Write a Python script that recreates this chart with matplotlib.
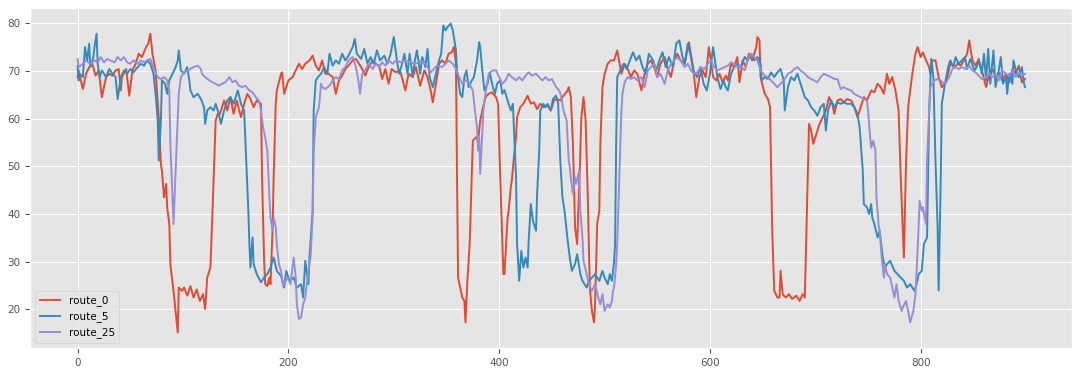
import numpy as np
import matplotlib
matplotlib.use("Agg")
import matplotlib.pyplot as plt

# values, route_0
x_r0 = [0, 1, 3, 5, 8, 11, 14, 17, 20, 23, 27, 30, 33, 36, 39, 41, 42, 46, 49, 52,
        55, 58, 61, 65, 67, 69, 71, 74, 77, 79, 80, 82, 84, 85, 87, 88, 91, 95, 96, 99,
        101, 104, 107, 110, 113, 116, 119, 121, 123, 126, 128, 131, 133, 135, 139, 142, 145, 148, 151, 155,
        158, 161, 164, 167, 170, 174, 175, 177, 178, 180, 182, 183, 185, 186, 188, 189, 193, 194, 196, 197,
        200, 204, 207, 210, 213, 216, 220, 223, 226, 229, 232, 235, 238, 242, 245, 248, 251, 254, 257, 261,
        264, 267, 270, 273, 276, 280, 283, 286, 289, 292, 295, 298, 302, 306, 311, 314, 318, 321, 325, 329,
        332, 335, 337, 340, 343, 346, 349, 352, 355, 357, 359, 360, 361, 363, 365, 367, 368, 370, 372, 374,
        375, 378, 380, 382, 384, 387, 390, 393, 397, 399, 401, 403, 404, 405, 408, 409, 411, 412, 414, 416,
        417, 420, 423, 427, 430, 433, 436, 439, 442, 446, 449, 452, 455, 458, 461, 465, 466, 468, 470, 472,
        474, 476, 478, 480, 482, 484, 486, 488, 490, 491, 493, 495, 496, 498, 500, 503, 506, 509, 512, 516,
        519, 522, 525, 528, 531, 535, 538, 541, 544, 547, 550, 553, 557, 560, 563, 566, 569, 572, 576, 580,
        584, 587, 590, 593, 596, 599, 603, 606, 609, 612, 615, 617, 620, 623, 626, 628, 631, 634, 637, 640,
        644, 645, 647, 648, 650, 652, 655, 657, 659, 661, 664, 666, 667, 669, 672, 675, 678, 682, 685, 688,
        690, 692, 694, 696, 698, 700, 704, 707, 710, 713, 716, 718, 721, 724, 727, 730, 734, 737, 740, 743,
        746, 749, 753, 756, 759, 762, 765, 768, 770, 773, 776, 779, 781, 784, 786, 788, 790, 792, 795, 797,
        800, 802, 805, 808, 809, 811, 814, 817, 820, 824, 828, 832, 835, 838, 841, 844, 846, 849, 852, 855,
        858, 862, 865, 868, 871, 874, 877, 881, 884, 887, 890, 893, 896, 899]
y_r0 = [68.7, 70.1, 68.0, 66.2, 69.4, 70.8, 71.5, 69.0, 70.1, 64.5, 68.7, 69.4, 69.0, 70.1, 70.4, 65.9, 68.7, 70.4, 64.8, 70.1,
        71.5, 73.6, 72.9, 75.0, 75.7, 77.8, 73.6, 70.1, 60.3, 50.5, 49.1, 43.5, 46.3, 41.4, 37.9, 29.5, 23.9, 15.2, 24.6, 23.9,
        24.6, 22.9, 24.9, 22.5, 24.2, 21.8, 23.2, 20.1, 26.7, 28.8, 40.7, 59.6, 61.0, 61.0, 63.8, 61.7, 64.5, 61.0, 63.8, 60.3,
        63.1, 65.2, 64.1, 62.4, 63.8, 63.1, 47.7, 30.0, 25.3, 24.9, 26.7, 25.3, 37.0, 47.7, 63.1, 65.9, 69.4, 69.7, 65.2, 65.9,
        68.0, 68.7, 70.1, 71.5, 70.4, 71.5, 72.2, 73.2, 71.1, 70.1, 72.2, 69.4, 69.4, 68.7, 65.2, 68.0, 69.0, 70.4, 71.1, 72.2,
        72.5, 71.5, 70.4, 69.0, 70.8, 72.2, 71.5, 71.1, 68.3, 70.4, 67.3, 70.4, 69.7, 70.1, 65.9, 69.4, 68.7, 70.8, 66.9, 70.1,
        68.7, 65.9, 63.4, 67.3, 71.5, 72.2, 71.5, 73.6, 73.9, 75.0, 71.5, 47.7, 26.7, 24.6, 22.5, 21.8, 17.3, 26.7, 33.7, 47.7,
        55.4, 56.1, 55.4, 59.6, 61.7, 64.5, 65.2, 65.5, 64.5, 63.1, 47.7, 33.7, 27.4, 27.4, 39.3, 40.7, 45.6, 47.0, 51.9, 56.1,
        60.3, 62.4, 63.1, 64.8, 63.1, 63.4, 62.0, 63.1, 62.4, 62.7, 61.7, 63.8, 64.1, 63.8, 64.8, 65.9, 66.6, 64.5, 54.7, 37.2,
        33.7, 46.3, 60.3, 64.5, 59.6, 44.2, 24.6, 19.7, 17.3, 21.1, 38.0, 40.7, 54.7, 66.6, 69.4, 71.5, 72.2, 72.2, 74.3, 69.4,
        71.5, 70.4, 68.7, 70.1, 69.4, 65.9, 69.4, 71.5, 72.2, 70.8, 68.7, 71.5, 72.9, 70.4, 68.7, 72.2, 73.6, 72.2, 71.5, 76.0,
        70.8, 64.5, 68.7, 70.1, 68.7, 75.0, 68.7, 68.0, 69.4, 67.6, 69.0, 68.0, 71.5, 70.8, 72.9, 67.6, 72.2, 70.8, 73.6, 72.2,
        75.0, 77.1, 76.4, 68.7, 66.9, 65.2, 64.1, 62.4, 37.2, 23.9, 22.5, 22.5, 28.1, 23.2, 22.5, 23.2, 22.2, 22.9, 21.8, 23.2,
        22.5, 40.7, 58.9, 57.5, 54.7, 56.1, 58.9, 60.3, 61.7, 64.5, 63.1, 61.0, 63.8, 64.1, 63.4, 64.1, 63.8, 62.4, 60.3, 62.4,
        64.5, 63.8, 65.9, 65.5, 67.3, 66.6, 65.2, 69.4, 67.3, 68.7, 65.9, 61.7, 47.7, 30.9, 50.5, 62.4, 65.9, 69.4, 73.6, 75.0,
        72.9, 73.9, 72.2, 70.8, 69.4, 72.2, 72.2, 68.7, 66.6, 67.6, 71.5, 70.8, 71.5, 71.1, 72.2, 73.6, 76.4, 72.2, 71.1, 72.5,
        70.1, 66.6, 69.4, 70.4, 68.7, 69.7, 68.0, 69.4, 67.6, 70.4, 69.4, 71.1, 67.6, 68.3]

# route_5
x_r5 = [0, 1, 2, 5, 7, 9, 11, 12, 15, 16, 18, 19, 21, 23, 27, 30, 33, 36, 38, 41,
        44, 47, 50, 53, 57, 60, 63, 66, 69, 72, 74, 76, 77, 79, 80, 83, 85, 87, 90, 93,
        95, 96, 98, 101, 104, 106, 107, 110, 114, 117, 120, 121, 123, 126, 129, 131, 134, 136, 139, 142,
        145, 148, 152, 155, 158, 160, 162, 163, 164, 166, 167, 170, 174, 177, 180, 183, 186, 189, 193, 196,
        198, 201, 205, 208, 212, 214, 216, 219, 220, 223, 224, 226, 228, 231, 234, 237, 239, 242, 245, 248,
        251, 254, 257, 261, 263, 265, 269, 272, 275, 278, 281, 284, 287, 291, 294, 297, 300, 303, 305, 308,
        310, 313, 315, 318, 320, 322, 325, 327, 330, 332, 334, 337, 340, 343, 345, 347, 349, 351, 354, 356,
        359, 360, 363, 365, 367, 369, 371, 374, 376, 379, 381, 382, 384, 386, 389, 391, 394, 396, 398, 401,
        403, 405, 408, 411, 413, 416, 417, 419, 421, 423, 425, 427, 428, 430, 432, 435, 436, 438, 439, 442,
        444, 446, 449, 451, 454, 456, 458, 460, 462, 465, 467, 469, 472, 474, 477, 479, 481, 483, 485, 488,
        491, 495, 498, 500, 503, 505, 507, 509, 510, 511, 512, 515, 518, 521, 524, 527, 530, 533, 536, 539,
        542, 546, 549, 552, 555, 558, 561, 565, 568, 571, 574, 576, 579, 582, 584, 588, 591, 594, 597, 600,
        603, 607, 610, 613, 615, 617, 620, 623, 626, 629, 633, 636, 639, 642, 645, 648, 649, 652, 655, 658,
        661, 664, 667, 670, 671, 674, 677, 680, 683, 686, 690, 693, 696, 699, 702, 705, 708, 710, 712, 715,
        718, 721, 724, 727, 730, 734, 737, 740, 742, 745, 746, 749, 751, 753, 754, 756, 759, 761, 764, 766,
        768, 771, 775, 778, 781, 784, 787, 790, 794, 796, 798, 801, 803, 806, 808, 810, 812, 814, 816, 817,
        819, 820, 823, 826, 828, 831, 833, 836, 839, 842, 844, 847, 851, 853, 855, 858, 860, 862, 864, 866,
        869, 871, 874, 876, 878, 881, 882, 884, 887, 888, 891, 893, 896, 898, 899]
y_r5 = [71.0, 68.0, 69.4, 68.7, 75.0, 72.2, 75.7, 70.8, 72.9, 75.0, 77.8, 71.5, 68.7, 70.1, 68.7, 70.4, 69.4, 68.7, 64.1, 68.7,
        70.1, 69.4, 70.4, 69.7, 70.8, 71.5, 71.1, 72.2, 71.5, 69.4, 65.2, 59.6, 51.2, 59.6, 68.0, 67.3, 65.2, 68.0, 69.4, 70.8,
        72.2, 74.3, 70.1, 69.4, 70.8, 68.0, 65.9, 64.5, 65.2, 64.1, 62.4, 58.9, 61.7, 62.4, 61.7, 63.1, 61.0, 58.9, 61.7, 63.8,
        64.5, 63.1, 65.9, 63.1, 61.7, 51.2, 40.7, 33.7, 28.8, 35.1, 29.5, 27.4, 25.7, 26.7, 27.4, 28.8, 30.9, 28.1, 27.0, 24.6,
        28.1, 26.0, 26.7, 24.6, 25.3, 22.5, 30.2, 25.3, 30.9, 40.7, 61.7, 68.0, 68.7, 69.4, 70.8, 69.4, 73.6, 71.1, 72.2, 71.5,
        73.6, 72.2, 73.2, 75.0, 76.7, 73.6, 72.5, 74.6, 71.5, 72.9, 71.5, 74.3, 72.2, 73.2, 71.5, 73.6, 77.1, 72.2, 69.4, 71.5,
        73.6, 69.4, 73.6, 68.7, 72.2, 74.3, 69.4, 72.9, 70.8, 74.6, 68.7, 66.6, 69.4, 72.2, 73.6, 79.5, 78.5, 79.2, 79.9, 78.5,
        74.3, 70.1, 65.2, 64.5, 68.7, 70.1, 66.6, 68.0, 68.7, 72.2, 76.0, 75.0, 70.1, 65.9, 67.3, 69.7, 66.6, 65.2, 67.3, 68.0,
        65.2, 66.0, 63.8, 61.7, 63.1, 47.7, 33.7, 26.0, 32.3, 28.8, 30.9, 28.8, 34.4, 42.1, 38.6, 36.5, 44.2, 53.3, 61.7, 63.1,
        62.4, 63.1, 61.7, 64.1, 64.8, 63.1, 51.2, 43.5, 40.7, 34.4, 30.9, 28.1, 29.5, 31.6, 27.4, 26.0, 25.3, 24.6, 26.0, 26.7,
        27.4, 26.0, 28.1, 26.7, 25.3, 27.4, 26.0, 30.0, 33.7, 54.7, 68.7, 70.1, 71.5, 70.4, 72.2, 73.9, 72.2, 73.2, 70.8, 69.4,
        73.6, 72.2, 70.1, 72.2, 73.9, 70.8, 72.9, 70.8, 75.7, 76.4, 72.9, 71.5, 75.7, 72.9, 70.1, 68.7, 70.8, 67.3, 65.9, 69.4,
        75.0, 68.7, 66.2, 68.0, 66.6, 65.9, 69.4, 70.8, 71.5, 70.8, 72.9, 72.2, 73.6, 72.2, 72.9, 71.5, 68.0, 68.7, 68.3, 69.7,
        68.7, 69.7, 70.4, 68.0, 61.7, 66.6, 68.7, 68.0, 69.4, 67.3, 64.5, 63.8, 62.4, 61.7, 60.6, 62.4, 63.1, 57.5, 61.7, 63.8,
        62.4, 63.4, 63.1, 63.4, 63.1, 63.1, 62.4, 61.0, 58.2, 49.1, 42.1, 41.4, 40.0, 42.1, 39.3, 37.9, 35.1, 36.5, 30.9, 28.8,
        29.5, 30.2, 28.1, 27.4, 26.7, 26.0, 24.6, 25.3, 23.9, 25.3, 27.4, 28.1, 33.7, 35.1, 61.7, 72.5, 68.7, 51.2, 37.2, 24.0,
        47.7, 63.1, 67.3, 70.8, 72.2, 70.8, 72.9, 71.5, 72.2, 72.9, 70.4, 72.5, 70.1, 70.8, 72.2, 69.4, 73.6, 68.0, 74.6, 67.3,
        74.3, 66.6, 70.1, 72.9, 67.3, 68.7, 65.2, 69.4, 67.3, 72.2, 69.4, 68.7, 70.8, 67.3, 66.6]

# route_25
x_r25 = [0, 1, 5, 8, 12, 16, 19, 22, 25, 28, 31, 35, 38, 41, 44, 47, 50, 53, 57, 60,
         63, 66, 69, 73, 76, 79, 82, 85, 87, 88, 90, 91, 94, 96, 98, 101, 104, 107, 110, 114,
         117, 118, 121, 125, 128, 131, 134, 137, 140, 144, 147, 150, 153, 156, 159, 163, 166, 169, 172, 174,
         176, 178, 180, 182, 183, 185, 186, 188, 189, 191, 193, 195, 199, 202, 205, 207, 208, 210, 212, 214,
         216, 219, 221, 223, 224, 226, 227, 229, 231, 232, 235, 239, 242, 245, 248, 251, 254, 257, 261, 264,
         266, 268, 270, 273, 276, 280, 283, 286, 289, 292, 295, 299, 302, 307, 311, 316, 321, 326, 330, 335,
         338, 341, 346, 349, 352, 356, 359, 362, 365, 368, 371, 375, 377, 379, 380, 381, 382, 385, 387, 390,
         394, 397, 400, 403, 406, 409, 412, 416, 419, 422, 425, 428, 431, 435, 438, 441, 444, 447, 450, 454,
         457, 459, 461, 464, 466, 467, 468, 470, 472, 473, 476, 477, 479, 480, 483, 485, 488, 491, 494, 496,
         498, 500, 503, 505, 507, 508, 509, 511, 512, 514, 516, 517, 519, 522, 525, 528, 531, 535, 538, 541,
         544, 547, 550, 553, 557, 560, 563, 566, 569, 572, 576, 579, 582, 585, 588, 591, 595, 598, 601, 604,
         607, 610, 614, 617, 620, 623, 626, 629, 633, 636, 639, 642, 645, 648, 652, 655, 658, 661, 664, 667,
         671, 674, 677, 680, 683, 686, 690, 693, 696, 699, 702, 705, 708, 712, 715, 718, 721, 724, 727, 730,
         734, 737, 740, 743, 746, 749, 750, 752, 753, 755, 757, 758, 760, 761, 763, 765, 766, 768, 771, 773,
         775, 777, 779, 782, 783, 786, 788, 790, 793, 795, 797, 799, 801, 802, 805, 806, 808, 809, 813, 816,
         819, 822, 824, 827, 830, 833, 836, 839, 843, 846, 849, 852, 855, 858, 862, 865, 868, 871, 874, 877,
         881, 884, 887, 890, 893, 896, 899]
y_r25 = [72.5, 70.8, 71.5, 72.2, 71.5, 72.2, 71.8, 72.9, 71.8, 72.5, 72.2, 71.8, 72.9, 72.2, 72.9, 71.8, 71.5, 72.2, 71.5, 72.2,
         71.8, 72.2, 72.5, 70.1, 68.7, 68.3, 68.7, 68.0, 65.9, 54.7, 43.5, 37.9, 54.7, 65.2, 68.7, 69.7, 70.1, 70.4, 70.8, 71.1,
         70.4, 69.4, 68.7, 68.0, 67.6, 67.3, 66.9, 67.3, 67.6, 68.7, 67.6, 68.0, 66.9, 66.6, 66.9, 65.9, 65.5, 64.5, 63.8, 61.7,
         58.2, 56.1, 53.3, 43.5, 39.3, 36.5, 39.3, 37.2, 33.7, 29.5, 28.1, 24.9, 26.7, 25.3, 30.9, 26.7, 21.1, 18.0, 18.3, 21.1,
         22.5, 28.1, 30.9, 39.3, 53.3, 60.3, 61.0, 62.4, 67.3, 66.6, 66.2, 66.9, 68.0, 68.7, 68.3, 70.1, 70.8, 72.2, 72.9, 70.8,
         68.7, 65.2, 69.4, 70.1, 71.5, 70.4, 71.5, 70.8, 71.8, 71.1, 72.2, 71.5, 72.2, 71.8, 72.2, 71.8, 71.5, 72.2, 71.5, 69.7,
         70.4, 71.1, 70.8, 71.5, 72.2, 71.5, 70.4, 68.7, 67.3, 68.0, 67.6, 65.9, 61.7, 58.2, 53.3, 56.1, 48.4, 61.7, 65.2, 69.4,
         70.1, 70.1, 68.7, 67.3, 68.0, 69.4, 68.7, 68.0, 68.7, 68.0, 69.0, 69.7, 69.0, 69.4, 68.7, 68.0, 68.7, 68.0, 68.3, 66.6,
         65.9, 64.5, 61.7, 59.6, 51.2, 49.8, 47.7, 44.2, 47.7, 46.3, 49.1, 40.7, 35.1, 30.2, 27.4, 25.3, 23.9, 25.3, 22.5, 21.1,
         23.2, 19.7, 21.1, 20.4, 21.8, 23.9, 24.6, 29.5, 33.7, 47.7, 61.7, 65.2, 67.6, 68.7, 68.3, 68.7, 68.0, 68.7, 66.6, 70.1,
         70.8, 71.5, 68.7, 69.4, 67.3, 70.1, 71.5, 72.2, 72.9, 72.2, 70.8, 71.5, 70.1, 69.4, 69.7, 70.8, 70.4, 71.5, 72.2, 70.8,
         70.1, 70.4, 70.8, 71.1, 71.8, 71.5, 70.8, 71.1, 70.1, 72.5, 73.6, 72.9, 72.2, 70.1, 69.0, 68.7, 68.0, 67.3, 66.6, 67.3,
         68.3, 69.4, 69.7, 70.4, 70.8, 70.1, 69.4, 68.7, 68.3, 68.0, 67.6, 68.7, 69.4, 69.0, 68.7, 68.3, 68.3, 66.2, 66.6, 66.2,
         65.9, 65.2, 64.8, 64.5, 64.1, 63.8, 61.7, 56.1, 53.9, 55.4, 53.3, 43.5, 37.9, 36.5, 30.9, 26.7, 29.5, 27.4, 26.7, 24.6,
         22.5, 25.3, 21.8, 19.7, 20.4, 21.8, 19.7, 17.3, 19.7, 23.2, 32.3, 42.8, 40.7, 41.4, 37.9, 51.2, 61.7, 66.6, 68.0, 68.3,
         68.0, 67.3, 67.6, 68.7, 70.4, 70.8, 70.4, 70.8, 70.4, 71.1, 70.1, 69.7, 69.0, 68.3, 68.7, 69.4, 68.7, 69.4, 68.0, 70.1,
         69.4, 69.0, 70.1, 68.7, 69.7, 69.0, 69.4]

series = [("route_0", x_r0, y_r0), ("route_5", x_r5, y_r5), ("route_25", x_r25, y_r25)]

plt.style.use("ggplot")
fig = plt.figure(figsize=(10.8, 3.74), dpi=100)
ax = fig.add_axes([0.028, 0.07, 0.965, 0.908])

for name, xs, ys in series:
    ax.plot(xs, ys, label=name, linewidth=1.4)

ax.set_xticks([0, 200, 400, 600, 800])
ax.set_yticks([20, 30, 40, 50, 60, 70, 80])
ax.tick_params(labelsize=7.5)
ax.legend(loc="lower left", fontsize=7.5, handlelength=2.0)

fig.savefig("out.png", dpi=100)
